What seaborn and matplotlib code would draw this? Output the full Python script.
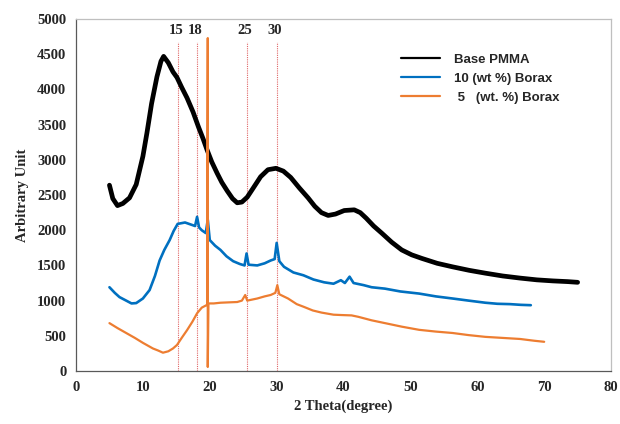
import numpy as np
import pandas as pd
import matplotlib
matplotlib.use("Agg")
import matplotlib.pyplot as plt
import seaborn as sns

# ---- data ----
pmma_x = [5.0, 5.5, 6.2, 7.0, 8.0, 9.0, 10.0, 10.6, 11.3, 12.1, 12.7, 13.1, 13.8, 14.5,
          15.1, 15.8, 16.6, 17.5, 18.3, 19.0, 19.6, 20.3, 21.1, 21.8, 22.6, 23.4, 24.1,
          24.8, 25.6, 26.5, 27.6, 28.7, 29.9, 31.0, 32.1, 33.4, 34.7, 35.7, 36.7, 37.7,
          38.8, 40.1, 41.6, 42.5, 43.4, 44.5, 45.7, 47.2, 48.7, 50.2, 51.7, 54.0, 56.3,
          58.8, 61.2, 63.8, 66.4, 68.9, 71.3, 73.5, 75.0]
pmma_y = [2640, 2450, 2350, 2380, 2460, 2650, 3050, 3380, 3800, 4180, 4400, 4470, 4380, 4250,
          4170, 4030, 3880, 3680, 3470, 3300, 3140, 2970, 2810, 2680, 2560, 2450, 2390,
          2400, 2470, 2600, 2760, 2860, 2880, 2840, 2750, 2600, 2460, 2340, 2250, 2210,
          2230, 2280, 2290, 2250, 2170, 2060, 1960, 1830, 1720, 1650, 1600, 1530, 1480,
          1430, 1390, 1350, 1320, 1295, 1280, 1270, 1260]

borax10_x = [5.0, 5.8, 6.5, 7.5, 8.3, 9.0, 10.0, 11.0, 11.8, 12.5, 13.2, 14.0, 14.6, 15.2,
             16.3, 17.2, 17.8, 18.1, 18.4, 18.8, 19.4, 19.7, 20.0, 20.8, 21.6, 22.5, 23.5,
             24.5, 25.2, 25.5, 25.8, 27.1, 28.2, 29.1, 29.7, 30.0, 30.4, 31.1, 32.5, 34.0,
             35.5, 37.1, 38.5, 39.6, 40.2, 40.9, 41.5, 43.0, 44.2, 46.2, 48.5, 51.3, 53.8,
             56.3, 58.7, 61.2, 63.0, 64.9, 66.5, 68.0]
borax10_y = [1190, 1110, 1050, 1000, 960, 965, 1030, 1150, 1350, 1570, 1720, 1860, 1990, 2090,
             2110, 2080, 2060, 2190, 2040, 2000, 1960, 2150, 1860, 1780, 1720, 1630, 1560,
             1520, 1500, 1670, 1510, 1500, 1530, 1570, 1590, 1820, 1560, 1480, 1400, 1360,
             1300, 1260, 1240, 1290, 1250, 1340, 1250, 1220, 1190, 1170, 1130, 1100, 1060,
             1030, 1000, 970, 955, 950, 940, 935]

borax5_x = [5.0, 6.2, 7.5, 8.8, 10.0, 11.5, 12.3, 13.0, 13.8, 14.5, 15.1, 15.8, 16.6, 17.4,
            18.1, 18.8, 19.6, 19.70, 19.70, 19.80, 20.6, 21.6, 22.8, 24.1, 24.8, 25.3, 25.6,
            27.1, 28.2, 29.1, 29.8, 30.1, 30.4, 31.7, 33.0, 34.1, 35.4, 36.7, 38.5, 39.7,
            41.2, 42.2, 44.2, 46.2, 48.7, 51.3, 53.8, 56.3, 58.7, 61.2, 63.8, 66.4, 68.5, 70.0]
borax5_y = [680, 610, 540, 470, 400, 320, 290, 260, 280, 320, 370, 470, 580, 700,
            820, 900, 940, 4730, 57, 960, 960, 970, 975, 980, 1000, 1080, 1000,
            1030, 1060, 1080, 1110, 1220, 1090, 1030, 950, 910, 860, 830, 800, 795,
            790, 770, 720, 680, 630, 585, 560, 540, 510, 485, 470, 455, 430, 415]

peak_pos = [15.2, 18.1, 25.5, 30.0]
peak_labels = ["15", "18", "25", "30"]

series_names = ["Base PMMA", "10 (wt %) Borax", " 5   (wt. %) Borax"]
series_colors = ["#000000", "#0070c0", "#ed7d31"]
series_widths = [3.4, 1.9, 1.6]

df = pd.concat([
    pd.DataFrame({"theta": pmma_x, "val": pmma_y, "sample": series_names[0]}),
    pd.DataFrame({"theta": borax10_x, "val": borax10_y, "sample": series_names[1]}),
    pd.DataFrame({"theta": borax5_x, "val": borax5_y, "sample": series_names[2]}),
], ignore_index=True)

sns.set_style("white")
plt.rcParams["font.family"] = ["Liberation Serif", "DejaVu Serif"]

fig = plt.figure(figsize=(6.2, 4.24), dpi=100)
ax = fig.add_axes([0.1226, 0.125, 0.863, 0.830])

# reference peak lines
for p, lab in zip(peak_pos, peak_labels):
    ax.plot([p, p], [0, 4680], color="#e06666", lw=0.8, ls=(0, (1, 1)), zorder=1)
    ax.text(p - 0.3, 4840, lab, ha="center", va="center", fontsize=10.5,
            fontweight="bold", family=["Liberation Serif"])

for name, col, lw in zip(series_names, series_colors, series_widths):
    sub = df[df["sample"] == name]
    sns.lineplot(data=sub, x="theta", y="val", color=col, lw=lw, sort=False,
                 estimator=None, label=name, ax=ax, zorder=3)

ax.set_xlim(0, 80)
ax.set_ylim(0, 5000)
ax.set_xticks(np.arange(0, 81, 10))
ax.set_yticks(np.arange(0, 5001, 500))
ax.set_xlabel("2 Theta(degree)", fontsize=10.5, fontweight="bold")
ax.set_ylabel("Arbitrary Unit", fontsize=10.5, fontweight="bold", labelpad=6)
ax.tick_params(axis="both", direction="out", length=4, width=0.8, color="#595959",
               labelsize=10.5, pad=3)
for t in ax.get_xticklabels() + ax.get_yticklabels():
    t.set_fontweight("bold")
for s in ["left", "bottom"]:
    ax.spines[s].set_color("#595959")
    ax.spines[s].set_linewidth(0.9)
for s in ["top", "right"]:
    ax.spines[s].set_color("#bfbfbf")
    ax.spines[s].set_linewidth(0.9)

leg = ax.legend(loc="upper left", bbox_to_anchor=(0.585, 0.935), frameon=False,
                handlelength=3.0, labelspacing=0.5, handletextpad=1.0,
                prop={"family": ["Liberation Sans"], "weight": "bold", "size": 9.5})
for h in leg.get_lines():
    h.set_linewidth(1.6)

fig.savefig("out.png", dpi=100)
